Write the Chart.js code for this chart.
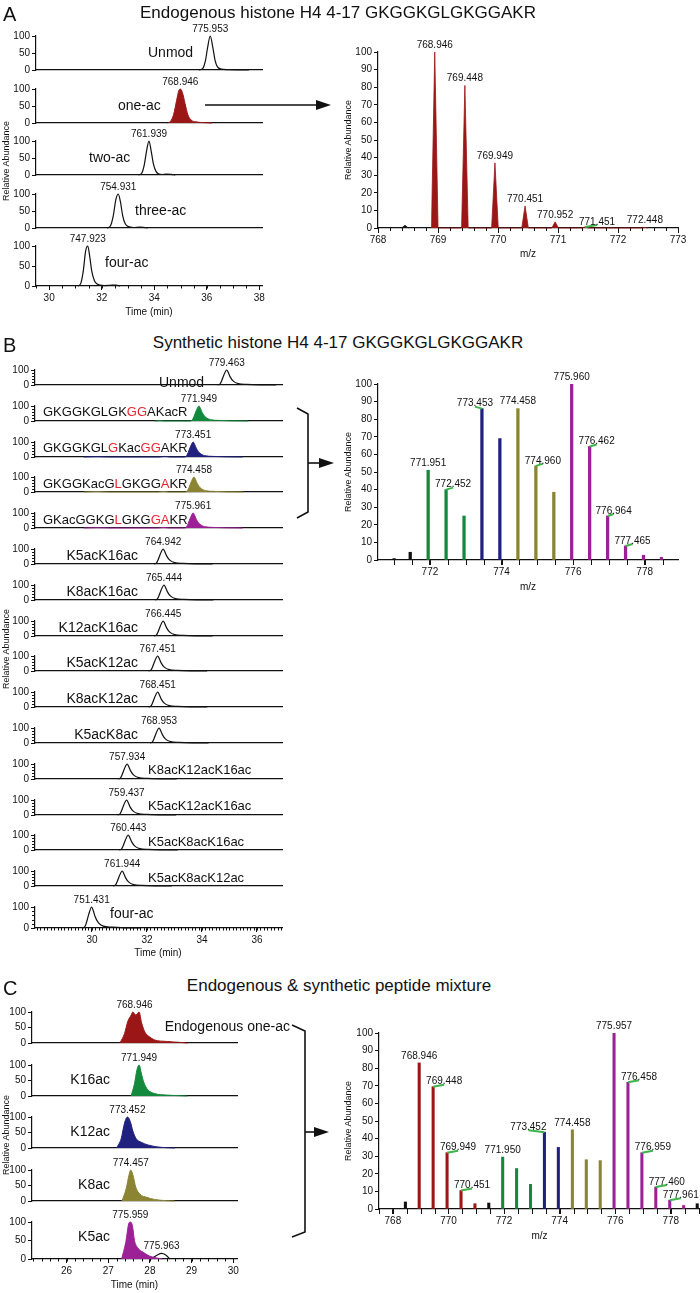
<!DOCTYPE html>
<html>
<head>
<meta charset="utf-8">
<script src="https://cdn.jsdelivr.net/npm/chart.js@4.4.1/dist/chart.umd.min.js"></script>
<style>
  body { margin: 0; background: #fff; }
  #page { position: relative; width: 700px; height: 1293px; overflow: hidden; background: #fff;
          font-family: "Liberation Sans", Arial, sans-serif; color: #111; }
  #page canvas { position: absolute; }
  .t { position: absolute; white-space: nowrap; line-height: 1; }
  .hl { color: #e3262c; }
</style>
</head>
<body>
<div id="page">
  <svg width="700" height="1293" style="position:absolute;left:0;top:0">
    <g stroke="#111" stroke-width="1.6" fill="none">
      <line x1="205" y1="105" x2="318" y2="105"/>
      <path d="M297 408 L308 414 L308 512 L297 518"/>
      <line x1="308" y1="463" x2="321" y2="463"/>
      <path d="M292 1025 L305 1031 L305 1232 L292 1237"/>
      <line x1="305" y1="1132" x2="316" y2="1132"/>
    </g>
    <g fill="#111">
      <path d="M316 100 L331 105 L316 110 Z"/>
      <path d="M319 458 L334 463 L319 468 Z"/>
      <path d="M314 1127 L329 1132 L314 1137 Z"/>
    </g>
  </svg>
</div>
<script>
'use strict';

// ===== A: endogenous histone H4 4-17 =====
const aNames = ['Unmod', 'one-ac', 'two-ac', 'three-ac', 'four-ac'];
const aMz = ['775.953', '768.946', '761.939', '754.931', '747.923'];
const aApex = [36.13, 34.99, 33.8, 32.63, 31.47];
// time (min), relative abundance
const aTraces = [
  [[35.7,0],[35.85,5],[35.95,28],[36.03,66],[36.13,100],[36.23,66],[36.31,30],[36.4,10],[36.55,3],[36.8,1.2],[37.3,0.4],[37.6,0]],
  [[34.5,0],[34.62,5],[34.74,26],[34.85,66],[34.93,94],[34.99,100],[35.07,90],[35.17,58],[35.28,24],[35.4,9],[35.58,3.5],[35.85,1.2],[36.2,0]],
  [[33.4,0],[33.52,5],[33.62,30],[33.71,72],[33.8,100],[33.88,72],[33.97,32],[34.07,10],[34.18,3],[34.3,1.5],[34.45,2.5],[34.65,2],[34.8,0]],
  [[32.2,0],[32.33,6],[32.44,36],[32.54,84],[32.63,100],[32.71,78],[32.8,36],[32.9,12],[33.02,4],[33.2,1.5],[33.45,2.5],[33.6,2],[33.75,0]],
  [[31.1,0],[31.2,6],[31.3,38],[31.39,88],[31.47,100],[31.54,76],[31.62,38],[31.72,14],[31.83,5],[31.95,2],[32.1,1],[32.3,1.5],[32.55,2.5],[32.7,0]]
];
const aTimeTicks = [30, 32, 34, 36, 38];
const chromYTicks = [0, 50, 100];

const aSpecBlack = [[768.45, 1.5]];
const aSpecRed = [[768.946, 100], [769.448, 81], [769.949, 37], [770.451, 12.5], [770.952, 3.5], [771.451, 0.6], [772.448, 0.3]];
const aLabelMz = [768.946, 769.448, 769.949, 770.451, 770.952, 771.451, 772.448];
const aMzTicks = [768, 769, 770, 771, 772, 773];
const specYTicks = [0, 10, 20, 30, 40, 50, 60, 70, 80, 90, 100];

// ===== B: synthetic histone H4 4-17 =====
const bNames = ['Unmod', 'GKGGKGLGK[GG]AKacR', 'GKGGKGL[G]Kac[GG]AKR', 'GKGGKacG[L]GKGG[A]KR', 'GKacGGKG[L]GKG[GA]KR',
  'K5acK16ac', 'K8acK16ac', 'K12acK16ac', 'K5acK12ac', 'K8acK12ac', 'K5acK8ac',
  'K8acK12acK16ac', 'K5acK12acK16ac', 'K5acK8acK16ac', 'K5acK8acK12ac', 'four-ac'];
const bMz = ['779.463', '771.949', '773.451', '774.458', '775.961', '764.942', '765.444', '766.445',
  '767.451', '768.451', '768.953', '757.934', '759.437', '760.443', '761.944', '751.431'];
const bApex = [34.9, 33.89, 33.68, 33.71, 33.68, 32.59, 32.62, 32.59, 32.39, 32.39, 32.44, 31.28, 31.26, 31.32, 31.1, 29.99];
// common peak profile: minutes from apex, relative abundance
const bShapeDt = [-0.33, -0.24, -0.18, -0.1, 0, 0.06, 0.12, 0.24, 0.42, 0.72, 1.2, 1.8];
const bShapeY = [0, 8, 30, 68, 100, 82, 56, 26, 9, 4, 1, 0];
// small side bumps seen in the labelled-peptide traces
const bExtra = [[], [[32.3,0],[32.47,2],[32.65,0]],
  [[29.7,0],[30.2,2],[30.65,0],[32.45,0],[32.65,4],[32.85,0]],
  [[29.7,0],[30.2,2.5],[30.65,0],[32.4,0],[32.6,3],[32.8,0]],
  [[29.7,0],[30.2,2],[30.65,0],[32.4,0],[32.6,3],[32.8,0]],
  [], [], [], [], [], [], [], [], [], [], []];
const bTimeTicks = [30, 32, 34, 36];
const bYTicks = [0, 100];

const bSpecBlack = [[771.0, 0.8], [771.45, 4.4]];
const bSpecGreen = [[771.951, 51], [772.452, 40], [772.953, 25]];
const bSpecBlue = [[773.453, 86], [773.954, 69]];
const bSpecOlive = [[774.458, 86], [774.960, 53.5], [775.461, 38.5]];
const bSpecPurple = [[775.960, 100], [776.462, 64.5], [776.964, 25], [777.465, 8], [777.966, 2.7], [778.467, 1.5]];
const bLabelMz = [771.951, 772.452, 773.453, 774.458, 774.960, 775.960, 776.462, 776.964, 777.465];
const bMzTicks = [772, 774, 776, 778];

// ===== C: endogenous & synthetic mixture =====
const cNames = ['Endogenous one-ac', 'K16ac', 'K12ac', 'K8ac', 'K5ac'];
const cMz = ['768.946', '771.949', '773.452', '774.457', '775.959'];
const cApex = [27.63, 27.74, 27.46, 27.54, 27.53];
const cTraces = [
  [[27.28,0],[27.39,30],[27.47,70],[27.55,90],[27.59,100],[27.66,90],[27.74,100],[27.8,65],[27.88,35],[27.99,20],[28.11,10],[28.4,5],[28.72,2],[28.9,0]],
  [[27.55,0],[27.63,40],[27.69,85],[27.74,100],[27.8,70],[27.85,45],[27.95,20],[28.11,8],[28.4,3],[28.72,1],[28.9,0]],
  [[27.2,0],[27.31,30],[27.39,80],[27.46,100],[27.53,85],[27.59,55],[27.67,30],[27.8,18],[27.95,10],[28.15,4],[28.4,1],[28.6,0]],
  [[27.33,0],[27.43,40],[27.5,85],[27.54,100],[27.59,85],[27.66,45],[27.76,22],[27.92,12],[28.11,5],[28.4,1],[28.6,0]],
  [[27.32,0],[27.42,45],[27.49,95],[27.53,100],[27.58,90],[27.63,50],[27.71,30],[27.84,18],[27.99,8],[28.15,3],[28.3,0]]
];
const cSideTrace = [[28.03,0],[28.18,11],[28.28,15],[28.38,11],[28.48,0]];
const cSideMz = '775.963';
const cTimeTicks = [26, 27, 28, 29, 30];

const cSpecBlack = [[768.45, 4], [771.45, 3.4], [778.95, 3]];
const cSpecRed = [[768.946, 83], [769.448, 69.5], [769.949, 32], [770.451, 10.5], [770.952, 3]];
const cSpecGreen = [[771.950, 29.5], [772.451, 23], [772.952, 14]];
const cSpecBlue = [[773.452, 43.6], [773.953, 35]];
const cSpecOlive = [[774.458, 45], [774.959, 28], [775.460, 27.5]];
const cSpecPurple = [[775.957, 100], [776.458, 72], [776.959, 32], [777.460, 12.5], [777.961, 5], [778.462, 2]];
const cLabelMz = [768.946, 769.448, 769.949, 770.451, 771.950, 773.452, 774.458, 775.957, 776.458, 776.959, 777.460, 777.961];
const cMzTicks = [768, 770, 772, 774, 776, 778];

// ----- styles / layout -----
const INK = '#111';
const RED = '#9b1616', GREEN = '#13893d', BLUE = '#20207f', OLIVE = '#8a8433', PURPLE = '#9d2196', MARK = '#3cb54a';
const aColors = [null, RED, null, null, null];
const bColors = [null, GREEN, BLUE, OLIVE, PURPLE, null, null, null, null, null, null, null, null, null, null, null];
const cColors = [RED, GREEN, BLUE, OLIVE, PURPLE];
const aLabelShift = [0, 0, 0, 0, 0, 12, 0];
const bLabelShift = [0, 7, -7, 0, 7, 0, 7, 6, 7];
const cLabelShift = [0, 11, 11, 11, 0, -16, 0, 0, 11, 11, 11, 11];

const stackA = { axisX: 36, right: 262, base0: 76, pitch: 52.5, h: 40, xMin: 29.5, xMax: 38.1,
  xTicks: aTimeTicks, yTicks: chromYTicks, xMinor: 0.5, yMinor: null };
const stackB = { axisX: 35, right: 282, base0: 391, pitch: 35.8, h: 21, xMin: 27.93, xMax: 36.91,
  xTicks: bTimeTicks, yTicks: bYTicks, xMinor: 0.125, yMinor: 20 };
const stackC = { axisX: 32, right: 237, base0: 1049, pitch: 52.5, h: 37, xMin: 25.17, xMax: 30.09,
  xTicks: cTimeTicks, yTicks: chromYTicks, xMinor: 0.2, yMinor: null };

Chart.defaults.font.family = '"Liberation Sans", Arial, sans-serif';
Chart.defaults.font.size = 10;
Chart.defaults.color = INK;

// unlabeled minor tick marks
const minorTicks = {
  id: 'minorTicks',
  afterDraw(chart, args, opts) {
    const { ctx } = chart;
    ctx.save();
    ctx.strokeStyle = INK;
    ctx.lineWidth = 1;
    ['x', 'y'].forEach((k) => {
      const m = opts[k];
      if (!m || !m.step) return;
      const s = chart.scales[k];
      const n0 = Math.ceil(s.min / m.step - 1e-6), n1 = Math.floor(s.max / m.step + 1e-6);
      ctx.beginPath();
      for (let n = n0; n <= n1; n++) {
        const p = Math.round(s.getPixelForValue(n * m.step)) + 0.5;
        if (k === 'x') { ctx.moveTo(p, s.top); ctx.lineTo(p, s.top + m.len); }
        else { ctx.moveTo(s.right, p); ctx.lineTo(s.right - m.len, p); }
      }
      ctx.stroke();
    });
    ctx.restore();
  }
};

// m/z labels over peaks, with the little green marker where the label is pushed aside
const peakTags = {
  id: 'peakTags',
  afterDatasetsDraw(chart, args, opts) {
    if (!opts.items) return;
    const { ctx, scales: { x, y } } = chart;
    ctx.save();
    ctx.font = '10px "Liberation Sans", Arial, sans-serif';
    ctx.textAlign = 'center';
    ctx.textBaseline = 'middle';
    opts.items.forEach((it) => {
      const px = x.getPixelForValue(it.x), py = y.getPixelForValue(it.y);
      const dx = it.dx || 0;
      if (dx) {
        ctx.strokeStyle = MARK;
        ctx.lineWidth = 2;
        ctx.beginPath();
        ctx.moveTo(px, py);
        ctx.lineTo(px + dx, py - 2);
        ctx.stroke();
      }
      ctx.fillStyle = INK;
      ctx.fillText(it.text, px + dx, py - (dx ? 5 : opts.gap));
    });
    ctx.restore();
  }
};

Chart.register(minorTicks, peakTags);

const page = document.getElementById('page');

function put(html, x, cy, fs, align) {
  const d = document.createElement('div');
  d.className = 't';
  d.innerHTML = html;
  d.style.fontSize = fs + 'px';
  d.style.left = x + 'px';
  d.style.top = (cy - fs * 0.5) + 'px';
  if (align === 'center') d.style.transform = 'translateX(-50%)';
  if (align === 'right') d.style.transform = 'translateX(-100%)';
  page.appendChild(d);
}

function putV(text, cx, cy, fs) {
  const d = document.createElement('div');
  d.className = 't';
  d.textContent = text;
  d.style.fontSize = fs + 'px';
  d.style.left = cx + 'px';
  d.style.top = cy + 'px';
  d.style.transform = 'translate(-50%,-50%) rotate(-90deg)';
  page.appendChild(d);
}

const red = (s) => s.replace(/\[([A-Z]+)\]/g, '<span class="hl">$1</span>');

function makeCanvas(left, top, w, h) {
  const cv = document.createElement('canvas');
  cv.width = w;
  cv.height = h;
  Object.assign(cv.style, { left: left + 'px', top: top + 'px', width: w + 'px', height: h + 'px' });
  page.appendChild(cv);
  return cv;
}

const fixedTicks = (list) => (s) => { s.ticks = list.map((v) => ({ value: v })); };

function lineSet(pts, color) {
  return {
    data: pts.map(([x, y]) => ({ x, y })),
    borderColor: color || INK,
    backgroundColor: color || 'transparent',
    fill: color ? 'origin' : false,
    borderWidth: color ? 1 : 1.2,
    pointRadius: 0,
    cubicInterpolationMode: 'monotone',
    clip: 8
  };
}

function chrom(st, i, datasets, tags, last) {
  const base = st.base0 + st.pitch * i, top = base - st.h;
  const padTop = 16, padBottom = last ? 22 : 2, padRight = 6;
  const cv = makeCanvas(0, top - padTop, st.right + padRight, st.h + padTop + padBottom);
  new Chart(cv, {
    type: 'line',
    data: { datasets },
    options: {
      responsive: false, animation: false, events: [],
      layout: { autoPadding: false, padding: { top: padTop, right: padRight, left: 0, bottom: 0 } },
      scales: {
        x: {
          type: 'linear', min: st.xMin, max: st.xMax, offset: false,
          afterBuildTicks: fixedTicks(last ? st.xTicks : []),
          afterFit: (s) => { s.height = padBottom; },
          ticks: { display: last, padding: 2, maxRotation: 0, autoSkip: false, callback: (v) => String(v) },
          grid: { drawOnChartArea: false, drawTicks: last, tickLength: 4, color: INK },
          border: { color: INK, width: 1.2 }
        },
        y: {
          type: 'linear', min: 0, max: 100,
          afterBuildTicks: fixedTicks(st.yTicks),
          afterFit: (s) => { s.width = st.axisX; },
          ticks: { padding: 2, autoSkip: false, callback: (v) => String(v) },
          grid: { drawOnChartArea: false, tickLength: 4, color: INK },
          border: { color: INK, width: 1.2 }
        }
      },
      plugins: {
        legend: { display: false }, tooltip: { enabled: false },
        minorTicks: { x: last ? { step: st.xMinor, len: 2.5 } : null, y: st.yMinor ? { step: st.yMinor, len: 3 } : null },
        peakTags: { items: tags, gap: 7 }
      }
    }
  });
}

// a centroid drawn as a narrow filled spike (half width in m/z is a style choice)
function spikeSet(pts, color, hw) {
  const data = [];
  pts.forEach(([x, y]) => { data.push({ x: x - hw, y: 0 }, { x, y }, { x: x + hw, y: 0 }); });
  return { type: 'line', data, borderColor: color, backgroundColor: color, borderWidth: 0.8,
    fill: 'origin', pointRadius: 0, tension: 0, clip: 4 };
}

function spectrum(g) {
  const padTop = 20, padBottom = 22, L = g.left - 46;
  const W = g.right + g.padRight - L;
  const cv = makeCanvas(L, g.top - padTop, W, g.bottom - g.top + padTop + padBottom);
  const all = g.sets.flatMap((s) => s.pts);
  const items = g.labels.map((mz, i) => ({
    x: mz, y: all.find((p) => p[0] === mz)[1], text: mz.toFixed(3), dx: g.shift[i]
  }));
  const datasets = g.sets.map((s) => g.spike
    ? spikeSet(s.pts, s.color, g.spike)
    : { data: s.pts.map(([x, y]) => ({ x, y })), backgroundColor: s.color, borderWidth: 0,
        barThickness: g.barW, grouped: false });
  new Chart(cv, {
    type: 'bar',
    data: { datasets },
    options: {
      responsive: false, animation: false, events: [],
      layout: { autoPadding: false, padding: { top: padTop, right: g.padRight, left: 0, bottom: 0 } },
      scales: {
        x: {
          type: 'linear', min: g.xMin, max: g.xMax, offset: false,
          afterBuildTicks: fixedTicks(g.xTicks),
          afterFit: (s) => { s.height = padBottom; },
          ticks: { padding: 1, maxRotation: 0, autoSkip: false, callback: (v) => String(v) },
          grid: { drawOnChartArea: false, offset: false, tickLength: 5, color: INK },
          border: { color: INK, width: 1.2 }
        },
        y: {
          type: 'linear', min: 0, max: 100,
          afterBuildTicks: fixedTicks(specYTicks),
          afterFit: (s) => { s.width = g.left - L; },
          ticks: { padding: 2, autoSkip: false, callback: (v) => String(v) },
          grid: { drawOnChartArea: false, tickLength: 4, color: INK },
          border: { color: INK, width: 1.2 }
        }
      },
      plugins: {
        legend: { display: false }, tooltip: { enabled: false },
        minorTicks: { x: { step: g.xMinor, len: g.minorLen } },
        peakTags: { items, gap: 7 }
      }
    }
  });
}

// ----- A -----
aTraces.forEach((tr, i) => {
  chrom(stackA, i, [lineSet(tr, aColors[i])], [{ x: aApex[i], y: 100, text: aMz[i] }], i === aTraces.length - 1);
});
spectrum({ left: 378, right: 678, top: 52, bottom: 228, padRight: 12, xMin: 768, xMax: 773,
  xTicks: aMzTicks, xMinor: 0.2, minorLen: 3, spike: 0.055,
  sets: [{ pts: aSpecBlack, color: INK }, { pts: aSpecRed, color: RED }],
  labels: aLabelMz, shift: aLabelShift });

// ----- B -----
bApex.forEach((a, i) => {
  const pts = bShapeDt.map((d, k) => [+(a + d).toFixed(3), bShapeY[k]])
    .concat(bExtra[i]).sort((p, q) => p[0] - q[0]);
  chrom(stackB, i, [lineSet(pts, bColors[i])], [{ x: a, y: 100, text: bMz[i] }], i === bApex.length - 1);
});
spectrum({ left: 378, right: 678, top: 384, bottom: 560, padRight: 12, xMin: 770.55, xMax: 778.93,
  xTicks: bMzTicks, xMinor: 0.5, minorLen: 5, barW: 2.6,
  sets: [{ pts: bSpecBlack, color: INK }, { pts: bSpecGreen, color: GREEN }, { pts: bSpecBlue, color: BLUE },
         { pts: bSpecOlive, color: OLIVE }, { pts: bSpecPurple, color: PURPLE }],
  labels: bLabelMz, shift: bLabelShift });

// ----- C -----
cTraces.forEach((tr, i) => {
  const last = i === cTraces.length - 1;
  const sets = [lineSet(tr, cColors[i])];
  const tags = [{ x: cApex[i], y: 100, text: cMz[i] }];
  if (last) {
    sets.push(lineSet(cSideTrace, null));
    tags.push({ x: cSideTrace[2][0], y: cSideTrace[2][1], text: cSideMz });
  }
  chrom(stackC, i, sets, tags, last);
});
spectrum({ left: 379, right: 700, top: 1033, bottom: 1209, padRight: 0, xMin: 767.5, xMax: 779.05,
  xTicks: cMzTicks, xMinor: 0.5, minorLen: 5, barW: 2.4,
  sets: [{ pts: cSpecBlack, color: INK }, { pts: cSpecRed, color: RED }, { pts: cSpecGreen, color: GREEN },
         { pts: cSpecBlue, color: BLUE }, { pts: cSpecOlive, color: OLIVE }, { pts: cSpecPurple, color: PURPLE }],
  labels: cLabelMz, shift: cLabelShift });

// ----- text -----
put('A', 3, 14, 20);
put('B', 3, 344.5, 20);
put('C', 3, 987.5, 20);
put('Endogenous histone H4 4-17 GKGGKGLGKGGAKR', 338, 12.5, 17, 'center');
put('Synthetic histone H4 4-17 GKGGKGLGKGGAKR', 338, 342.5, 17, 'center');
put('Endogenous &amp; synthetic peptide mixture', 339, 985, 17, 'center');

const aNameX = [148, 118, 89, 135, 105];
aNames.forEach((n, i) => put(n, aNameX[i], stackA.base0 + stackA.pitch * i - 24, 14));

const bNameX = [159, 43, 43, 43, 43, 138, 138, 138, 138, 138, 138, 148, 148, 148, 148, 110];
const bNameAlign = ['left', 'left', 'left', 'left', 'left', 'right', 'right', 'right', 'right', 'right', 'right',
  'left', 'left', 'left', 'left', 'left'];
const bNameSize = [14, 13, 13, 13, 13, 14, 14, 14, 14, 14, 14, 13, 13, 13, 13, 14];
bNames.forEach((n, i) => put(red(n), bNameX[i], stackB.base0 + stackB.pitch * i - (i === 0 ? 9 : 15), bNameSize[i], bNameAlign[i]));

const cNameX = [290, 110, 110, 110, 110];
cNames.forEach((n, i) => put(n, cNameX[i], stackC.base0 + stackC.pitch * i - 23, 14, 'right'));

put('Time (min)', 149, 312, 10, 'center');
put('Time (min)', 158, 953, 10, 'center');
put('Time (min)', 134.5, 1285, 10, 'center');
put('m/z', 528, 254, 10, 'center');
put('m/z', 528, 587, 10, 'center');
put('m/z', 539.5, 1236, 10, 'center');
putV('Relative Abundance', 6, 161, 9);
putV('Relative Abundance', 6, 649, 9);
putV('Relative Abundance', 6, 1135, 9);
putV('Relative Abundance', 348, 140, 9);
putV('Relative Abundance', 348, 472, 9);
putV('Relative Abundance', 348, 1121, 9);
</script>
</body>
</html>
